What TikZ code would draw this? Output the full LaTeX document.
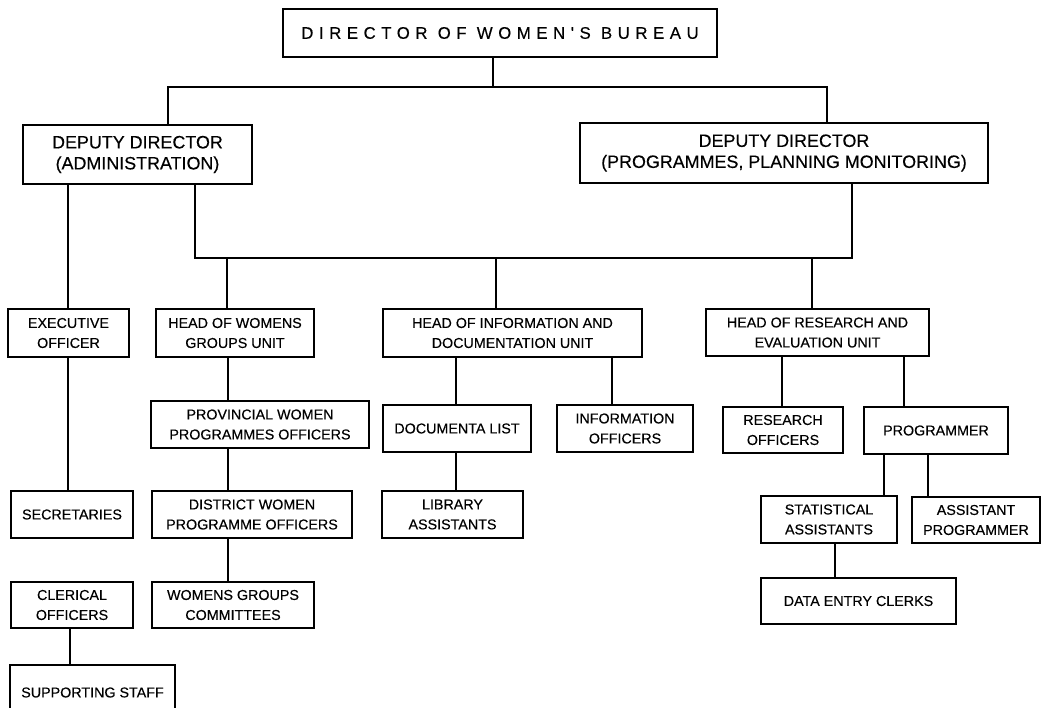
\documentclass[tikz,border=0pt]{standalone}
\usepackage{fontspec}
\setmainfont[FakeBold=0.3]{Liberation Sans}
\newfontfamily\spacedfont[LetterSpace=33,FakeBold=0.3]{Liberation Sans}
\begin{document}
\begin{tikzpicture}[x=1pt,y=-1pt,
  box/.style={draw,line width=1.3pt,inner sep=0pt,align=center,
    font=\fontsize{14.3}{20}\selectfont},
  bigbox/.style={box,font=\fontsize{17.9}{21}\selectfont},
  conn/.style={line width=1.3pt}]
\useasboundingbox (0,0) rectangle (1043,708);
% nodes
\node[box,minimum width=434pt,minimum height=48pt,font=\spacedfont\fontsize{16.8}{20}\selectfont] (top) at (500,33) {DIRECTOR OF WOMEN'S BUREAU};
\node[bigbox,minimum width=229pt,minimum height=59pt] (dda) at (137.5,154.5) {DEPUTY DIRECTOR\\(ADMINISTRATION)};
\node[bigbox,minimum width=408pt,minimum height=60pt] (ddp) at (784,153) {DEPUTY DIRECTOR\\(PROGRAMMES, PLANNING MONITORING)};
\node[box,minimum width=121pt,minimum height=48pt] (exec) at (68.5,333) {EXECUTIVE\\OFFICER};
\node[box,minimum width=158pt,minimum height=48pt] (hwg) at (235,333) {HEAD OF WOMENS\\GROUPS UNIT};
\node[box,minimum width=259pt,minimum height=48pt] (hid) at (512.5,333) {HEAD OF INFORMATION AND\\DOCUMENTATION UNIT};
\node[box,minimum width=223pt,minimum height=47pt] (hre) at (817.5,332.5) {HEAD OF RESEARCH AND\\EVALUATION UNIT};
\node[box,minimum width=122pt,minimum height=47pt] (sec) at (72,514.5) {SECRETARIES};
\node[box,minimum width=122pt,minimum height=46pt] (cler) at (72,605) {CLERICAL\\OFFICERS};
\node[box,minimum width=165pt,minimum height=55pt] (sup) at (92.5,692.5) {SUPPORTING STAFF};
\node[box,minimum width=218pt,minimum height=47pt] (prov) at (260,424.5) {PROVINCIAL WOMEN\\PROGRAMMES OFFICERS};
\node[box,minimum width=200pt,minimum height=47pt] (dist) at (252,514.5) {DISTRICT WOMEN\\PROGRAMME OFFICERS};
\node[box,minimum width=162pt,minimum height=46pt] (wgc) at (233,605) {WOMENS GROUPS\\COMMITTEES};
\node[box,minimum width=148pt,minimum height=47pt] (doc) at (457,428.5) {DOCUMENTA LIST};
\node[box,minimum width=141pt,minimum height=47pt] (lib) at (452.5,514.5) {LIBRARY\\ASSISTANTS};
\node[box,minimum width=136pt,minimum height=47pt] (info) at (625,428.5) {INFORMATION\\OFFICERS};
\node[box,minimum width=120pt,minimum height=46pt] (res) at (783,430) {RESEARCH\\OFFICERS};
\node[box,minimum width=144pt,minimum height=47pt] (prog) at (936,430.5) {PROGRAMMER};
\node[box,minimum width=136pt,minimum height=47pt] (stat) at (829,519.5) {STATISTICAL\\ASSISTANTS};
\node[box,minimum width=128pt,minimum height=46pt] (aprog) at (976,520) {ASSISTANT\\PROGRAMMER};
\node[box,minimum width=195pt,minimum height=46pt] (dec) at (858.5,601) {DATA ENTRY CLERKS};
% junction coordinates
\coordinate (t0) at (493,87);
\coordinate (jl) at (168,87);
\coordinate (jr) at (827,87);
\coordinate (bl) at (195,258);
\coordinate (br) at (852,258);
\coordinate (d1) at (227,258);
\coordinate (d2) at (496,258);
\coordinate (d3) at (812,258);
\coordinate (ce) at (68,0);
\coordinate (cw) at (228,0);
\coordinate (cd) at (456,0);
\coordinate (ci) at (612,0);
\coordinate (cr) at (782,0);
\coordinate (cp) at (904,0);
\coordinate (cs) at (884,0);
\coordinate (ca) at (928,0);
\coordinate (cx) at (835,0);
\coordinate (cc) at (70,0);
% connectors
\draw[conn] (top.south -| t0) -- (t0);
\draw[conn] (dda.north -| jl) -- (jl) -- (jr) -- (ddp.north -| jr);
\draw[conn] (dda.south -| bl) -- (bl) -- (br) -- (ddp.south -| br);
\draw[conn] (d1) -- (hwg.north -| d1);
\draw[conn] (d2) -- (hid.north -| d2);
\draw[conn] (d3) -- (hre.north -| d3);
\draw[conn] (dda.south -| ce) -- (exec.north -| ce);
\draw[conn] (exec.south -| ce) -- (sec.north -| ce);
\draw[conn] (cler.south -| cc) -- (sup.north -| cc);
\draw[conn] (hwg.south -| cw) -- (prov.north -| cw);
\draw[conn] (prov.south -| cw) -- (dist.north -| cw);
\draw[conn] (dist.south -| cw) -- (wgc.north -| cw);
\draw[conn] (hid.south -| cd) -- (doc.north -| cd);
\draw[conn] (doc.south -| cd) -- (lib.north -| cd);
\draw[conn] (hid.south -| ci) -- (info.north -| ci);
\draw[conn] (hre.south -| cr) -- (res.north -| cr);
\draw[conn] (hre.south -| cp) -- (prog.north -| cp);
\draw[conn] (prog.south -| cs) -- (stat.north -| cs);
\draw[conn] (prog.south -| ca) -- (aprog.north -| ca);
\draw[conn] (stat.south -| cx) -- (dec.north -| cx);
\end{tikzpicture}
\end{document}
